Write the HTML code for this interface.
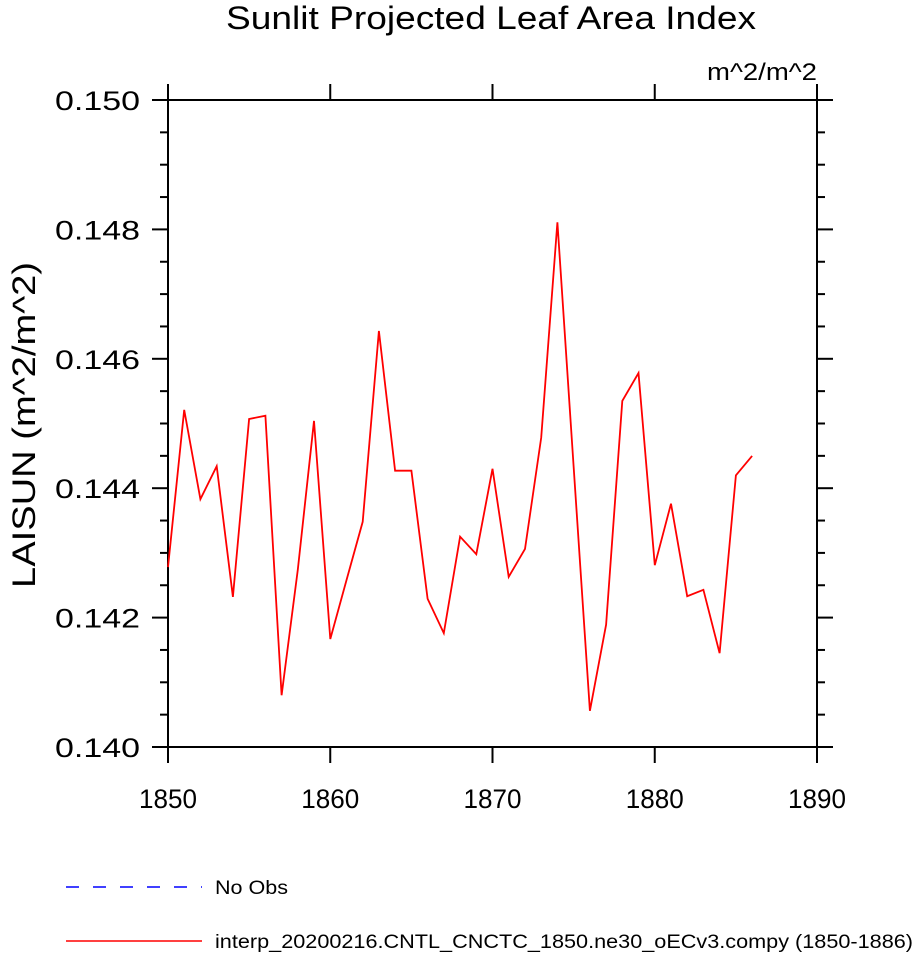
<!DOCTYPE html>
<html><head><meta charset="utf-8">
<style>
html,body{margin:0;padding:0;background:#fff;}
svg{display:block;font-family:"Liberation Sans",Arial,sans-serif;}
</style></head>
<body>
<svg id="chart" width="914" height="953" viewBox="0 0 914 953" xmlns="http://www.w3.org/2000/svg">
<text x="491" y="29" font-size="32" text-anchor="middle" textLength="530" lengthAdjust="spacingAndGlyphs">Sunlit Projected Leaf Area Index</text>
<text x="817" y="80" font-size="24" text-anchor="end" textLength="110" lengthAdjust="spacingAndGlyphs">m^2/m^2</text>
<text transform="translate(35,425) rotate(-90)" font-size="32" text-anchor="middle" textLength="326" lengthAdjust="spacingAndGlyphs">LAISUN  (m^2/m^2)</text>
<g id="axes"></g>
<g id="series"></g>
<g>
<line x1="66" y1="887" x2="202" y2="887" stroke="#0000ff" stroke-width="1.6" stroke-dasharray="13,14"/>
<text x="215" y="894" font-size="19" textLength="73" lengthAdjust="spacingAndGlyphs">No Obs</text>
<line x1="66" y1="941" x2="202" y2="941" stroke="#ff0000" stroke-width="1.5"/>
<text x="215" y="948" font-size="19" textLength="698" lengthAdjust="spacingAndGlyphs">interp_20200216.CNTL_CNCTC_1850.ne30_oECv3.compy (1850-1886)</text>
</g>
</svg>
<script>
const years = [1850,1851,1852,1853,1854,1855,1856,1857,1858,1859,1860,1861,1862,1863,1864,1865,1866,1867,1868,1869,1870,1871,1872,1873,1874,1875,1876,1877,1878,1879,1880,1881,1882,1883,1884,1885,1886];
const laisun = [0.14278,0.14521,0.14383,0.14434,0.14232,0.14507,0.14512,0.14080,0.14274,0.14504,0.14167,0.14258,0.14348,0.14643,0.14427,0.14427,0.14229,0.14176,0.14325,0.14298,0.14430,0.14263,0.14306,0.14478,0.14811,0.14434,0.14056,0.14189,0.14535,0.14578,0.14281,0.14376,0.14233,0.14243,0.14145,0.14420,0.14450];
const xTicks = [1850,1860,1870,1880,1890];
const yTicks = [0.140,0.142,0.144,0.146,0.148,0.150];
const yTickLabels = ["0.140","0.142","0.144","0.146","0.148","0.150"];

const X0=168,X1=817,Y0=747,Y1=100;
const xMin=1850,xMax=1890,yMin=0.140,yMax=0.150;
function sx(v){return X0+(v-xMin)/(xMax-xMin)*(X1-X0);}
function sy(v){return Y0-(v-yMin)/(yMax-yMin)*(Y0-Y1);}
const NS="http://www.w3.org/2000/svg";
function mk(tag,attrs,parent){const e=document.createElementNS(NS,tag);for(const k in attrs)e.setAttribute(k,attrs[k]);parent.appendChild(e);return e;}
const axes=document.getElementById('axes');
const frame=mk('rect',{x:X0,y:Y1,width:X1-X0,height:Y0-Y1,fill:'none',stroke:'#000','stroke-width':2},axes);


xTicks.forEach(t=>{
  const x=sx(t);
  const b=mk('line',{x1:x,y1:Y0,x2:x,y2:Y0+16,stroke:'#000','stroke-width':2},axes);
  
  
  const tp=mk('line',{x1:x,y1:Y1,x2:x,y2:Y1-16,stroke:'#000','stroke-width':2},axes);
  
  
  const l=mk('text',{x:x,y:808,'font-size':27,'text-anchor':'middle',textLength:58,lengthAdjust:'spacingAndGlyphs'},axes);
  l.textContent=String(t);
  
  
});
for(let v=yMin;v<=yMax+1e-9;v+=0.0005){
  const y=sy(v);
  const major=Math.abs(Math.round(v*1e4)%20)<1e-6;
  const len=major?16:8;
  const a=mk('line',{x1:X0-len,y1:y,x2:X0,y2:y,stroke:'#000','stroke-width':2},axes);
  
  
  const r=mk('line',{x1:X1,y1:y,x2:X1+len,y2:y,stroke:'#000','stroke-width':2},axes);
  
  
}
yTicks.forEach((t,i)=>{
  const l=mk('text',{x:140,y:sy(t)+10,'font-size':27,'text-anchor':'end',textLength:85,lengthAdjust:'spacingAndGlyphs'},axes);
  l.textContent=yTickLabels[i];
  
  
});
const pts=years.map((yr,i)=>sx(yr).toFixed(1)+','+sy(laisun[i]).toFixed(1)).join(' ');
const line=mk('polyline',{points:pts,fill:'none',stroke:'#ff0000','stroke-width':1.8,'stroke-linejoin':'miter'},document.getElementById('series'));


</script>
</body></html>
